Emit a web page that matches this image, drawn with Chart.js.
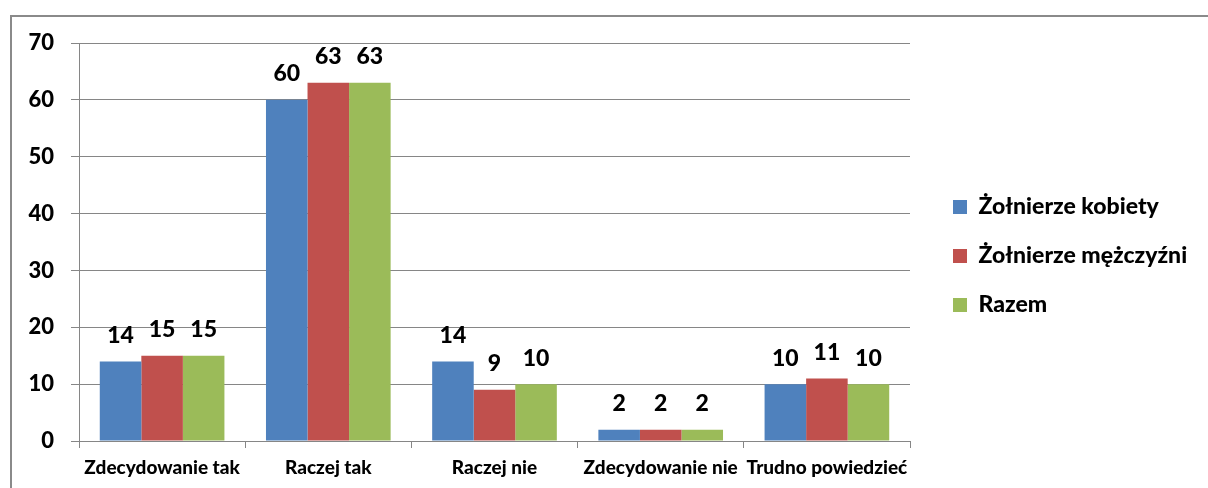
<!DOCTYPE html>
<html>
<head>
<meta charset="utf-8">
<script src="https://cdn.jsdelivr.net/npm/chart.js@4"></script>
<style>
  html, body { margin: 0; padding: 0; background: #fff; overflow: hidden; }
  #wrap { position: relative; width: 1208px; height: 488px; }
  #frame { position: absolute; left: 10px; top: 15px; width: 1400px; height: 700px;
           border-top: 2px solid #8a8a8a; border-left: 2px solid #8a8a8a; box-sizing: border-box; }
  canvas { position: absolute; left: 0; top: 0; }
</style>
</head>
<body>
<div id="wrap">
  <div id="frame"></div>
  <canvas id="c" width="1208" height="488"></canvas>
</div>
<script>
const categories = ['Zdecydowanie tak', 'Raczej tak', 'Raczej nie', 'Zdecydowanie nie', 'Trudno powiedzieć'];
const seriesNames = ['Żołnierze kobiety', 'Żołnierze mężczyźni', 'Razem'];
const womenValues = [14, 60, 14, 2, 10];
const menValues = [15, 63, 9, 2, 11];
const totalValues = [15, 63, 10, 2, 10];
const yTicks = [0, 10, 20, 30, 40, 50, 60, 70];
const colors = ['#4F81BD', '#C0504D', '#9BBB59'];

const FONT = 'Lato, "Liberation Sans", sans-serif';
const WEIGHT = '900';

const valueLabels = {
  id: 'valueLabels',
  afterDatasetsDraw(chart) {
    const ctx = chart.ctx;
    ctx.save();
    ctx.font = WEIGHT + ' 23px ' + FONT;
    ctx.fillStyle = '#000';
    ctx.textAlign = 'center';
    ctx.textBaseline = 'middle';
    chart.data.datasets.forEach((ds, di) => {
      const meta = chart.getDatasetMeta(di);
      meta.data.forEach((bar, i) => {
        ctx.fillText(String(ds.data[i]), bar.x, bar.y - 26);
      });
    });
    ctx.restore();
  }
};

// let the legend text run to the canvas edge instead of being clipped
const widenLegend = {
  id: 'widenLegend',
  afterLayout(chart) {
    const lg = chart.legend;
    if (lg) {
      lg.right = chart.width;
      lg.width = lg.right - lg.left;
    }
  }
};

new Chart(document.getElementById('c'), {
  type: 'bar',
  data: {
    labels: categories,
    datasets: [
      { label: seriesNames[0], data: womenValues, backgroundColor: colors[0] },
      { label: seriesNames[1], data: menValues, backgroundColor: colors[1] },
      { label: seriesNames[2], data: totalValues, backgroundColor: colors[2] }
    ]
  },
  options: {
    responsive: false,
    animation: false,
    devicePixelRatio: 1,
    layout: { padding: { left: 0, top: 43, right: 95.6, bottom: 0 } },
    datasets: { bar: { categoryPercentage: 0.75, barPercentage: 1.0 } },
    plugins: {
      tooltip: { enabled: false },
      legend: {
        position: 'right',
        fullSize: false,
        title: { display: true, text: ' ', font: { size: 10, lineHeight: 1.2 }, padding: 8 },
        labels: {
          color: '#000',
          font: { family: FONT, size: 23, weight: WEIGHT },
          boxWidth: 14, boxHeight: 14, padding: 26
        }
      }
    },
    scales: {
      x: {
        grid: { display: true, drawOnChartArea: false, color: '#868686', tickLength: 7, offset: true },
        border: { display: true, color: '#868686', width: 1 },
        ticks: { color: '#000', font: { family: FONT, size: 19, weight: WEIGHT }, padding: 8, maxRotation: 0, autoSkip: false },
        afterFit(s) { s.height = 47; }
      },
      y: {
        min: 0, max: 70,
        afterBuildTicks(s) { s.ticks = yTicks.map(v => ({ value: v })); },
        grid: { color: '#868686', tickLength: 8 },
        border: { display: true, color: '#868686', width: 1 },
        ticks: { color: '#000', font: { family: FONT, size: 22, weight: WEIGHT }, padding: 17 },
        afterFit(s) { s.width = 79; }
      },
      spacer: {
        position: 'right',
        display: true,
        grid: { display: false },
        border: { display: false },
        ticks: { display: false },
        afterFit(s) { s.width = 17; }
      }
    }
  },
  plugins: [valueLabels, widenLegend]
});
</script>
</body>
</html>
